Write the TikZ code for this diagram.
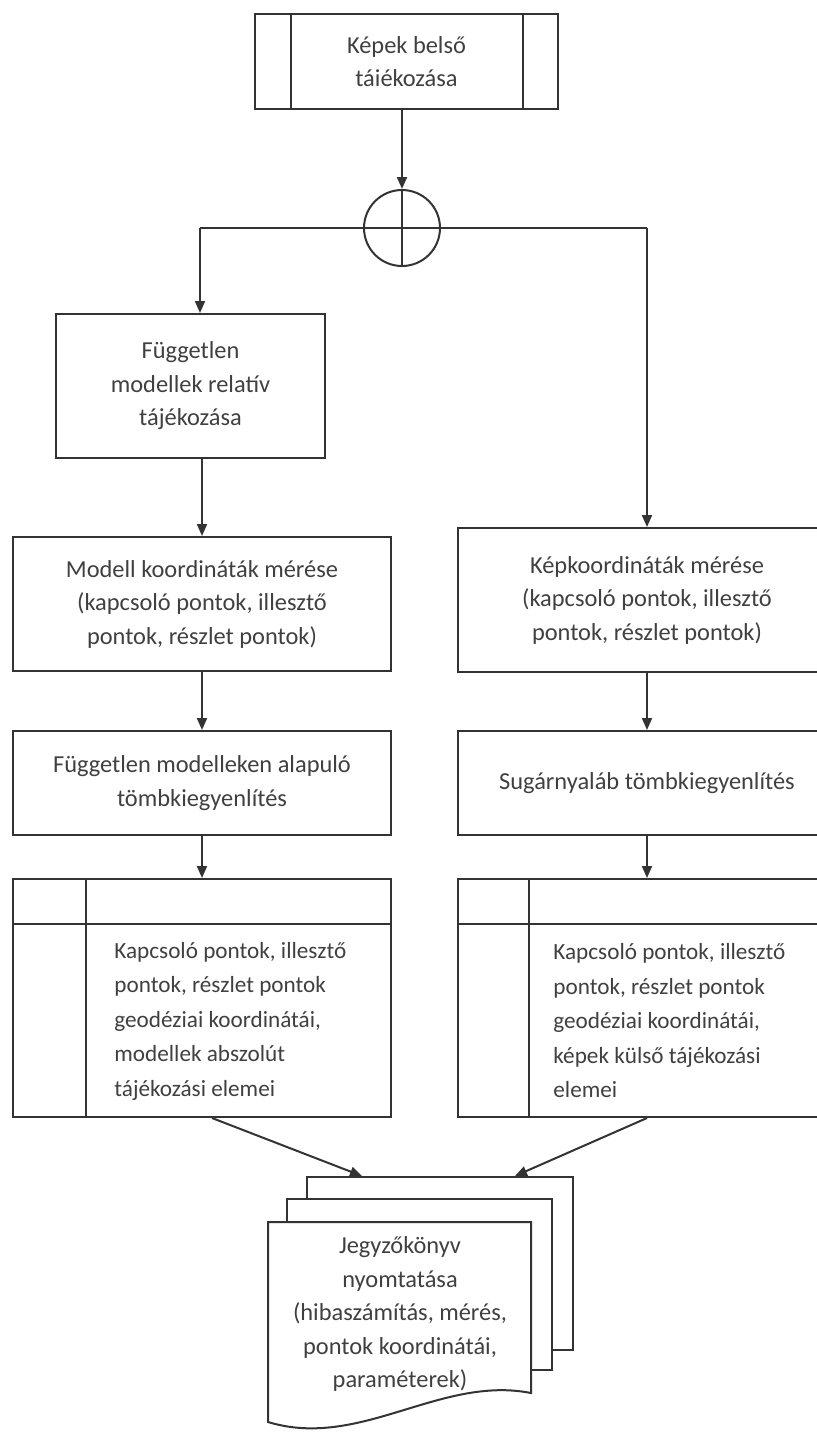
\documentclass[tikz,border=0pt]{standalone}
\usepackage{fontspec}
\setmainfont{Carlito}
\usetikzlibrary{arrows.meta}
\tikzset{
	box/.style={draw=black!80, line width=1pt, fill=white, align=center, text=black!75,
		font=\fontsize{12.2}{16.75}\selectfont, minimum width=189pt},
	pil/.style={draw=black!80, line width=1pt, -{Triangle[length=6pt,width=5pt]}},
	lin/.style={draw=black!80, line width=1pt},
	txt/.style={align=left, text=black!75, font=\fontsize{11.6}{17.25}\selectfont, inner sep=0pt}
}
\begin{document}
\begin{tikzpicture}[x=0.5pt,y=-0.5pt]
	\useasboundingbox (0,0) rectangle (817,1432);
	\clip (0,0) rectangle (817,1432);
	% top: predefined process + summing junction
	\node [box, minimum width=151.5pt, minimum height=47.5pt] (top) at (406.5,61.5) {K\'epek bels\H{o}\\t\'ai\'ekoz\'asa};
	\draw [lin] ([xshift=18.5pt]top.north west) -- ([xshift=18.5pt]top.south west);
	\draw [lin] ([xshift=-18pt]top.north east) -- ([xshift=-18pt]top.south east);
	\node [draw=black!80, line width=1pt, circle, minimum size=38pt] (join) at (402,228) {};
	\draw [pil] (top.south -| join.north) -- (join.north);
	\draw [lin] (join.north) -- (join.south);
	\coordinate (lt) at (200,228);
	\coordinate (rt) at (647,228);
	\draw [lin] (lt) -- (rt);
	% left column
	\node [box, minimum width=134.5pt, minimum height=72pt] (f1) at (190.5,386) {F\"uggetlen\\modellek relat\'iv\\t\'aj\'ekoz\'asa};
	\node [box, minimum height=67pt] (ml) at (202,604) {Modell koordin\'at\'ak m\'er\'ese\\(kapcsol\'o pontok, illeszt\H{o}\\pontok, r\'eszlet pontok)};
	\node [box, minimum height=52pt] (tl) at (202,783) {F\"uggetlen modelleken alapul\'o\\t\"ombkiegyenl\'it\'es};
	\node [box, minimum height=119pt] (el) at (202,998) {};
	\draw [lin] ([yshift=-23pt]el.north west) -- ([yshift=-23pt]el.north east);
	\draw [lin] ([xshift=37pt]el.north west) -- ([xshift=37pt]el.south west);
	\node [txt, anchor=west] (elt) at (114,1021) {Kapcsol\'o pontok, illeszt\H{o}\\pontok, r\'eszlet pontok\\geod\'eziai koordin\'at\'ai,\\modellek abszol\'ut\\t\'aj\'ekoz\'asi elemei};
	% right column
	\node [box, minimum height=72pt] (kk) at (647,600) {K\'epkoordin\'at\'ak m\'er\'ese\\(kapcsol\'o pontok, illeszt\H{o}\\pontok, r\'eszlet pontok)};
	\node [box, minimum height=52pt] (tr) at (647,783) {Sug\'arnyal\'ab t\"ombkiegyenl\'it\'es};
	\node [box, minimum height=119pt] (er) at (647,998) {};
	\draw [lin] ([yshift=-23pt]er.north west) -- ([yshift=-23pt]er.north east);
	\draw [lin] ([xshift=36pt]er.north west) -- ([xshift=36pt]er.south west);
	\node [txt, anchor=west] (ert) at (553,1021) {Kapcsol\'o pontok, illeszt\H{o}\\pontok, r\'eszlet pontok\\geod\'eziai koordin\'at\'ai,\\k\'epek k\"uls\H{o} t\'aj\'ekoz\'asi\\elemei};
	% arrows
	\draw [pil] (lt) -- (lt |- f1.north);
	\draw [pil] (f1.south -| ml.north) -- (ml.north);
	\draw [pil] (ml.south) -- (tl.north);
	\draw [pil] (tl.south) -- (el.north);
	\draw [pil] (rt) -- (kk.north);
	\draw [pil] (kk.south) -- (tr.north);
	\draw [pil] (tr.south) -- (er.north);
	% document stack
	\node [box, minimum width=133pt, minimum height=86.5pt] (pg3) at (440,1263.5) {};
	\node [box, minimum width=132.5pt, minimum height=85.5pt] (pg2) at (419.5,1284.5) {};
	\draw [lin, fill=white] (268,1222) -- (531,1222) -- (531,1393)
		.. controls (440,1375) and (360,1450) .. (268,1422) -- cycle;
	\node [box, draw=none, fill=none] (rep) at (400,1314) {Jegyz\H{o}k\"onyv\\nyomtat\'asa\\(hibasz\'am\'it\'as, m\'er\'es,\\pontok koordin\'at\'ai,\\param\'eterek)};
	\draw [pil] ([xshift=5pt]el.south) -- ([xshift=-39pt]pg3.north);
	\draw [pil] (er.south) -- ([xshift=37.5pt]pg3.north);
\end{tikzpicture}
\end{document}
